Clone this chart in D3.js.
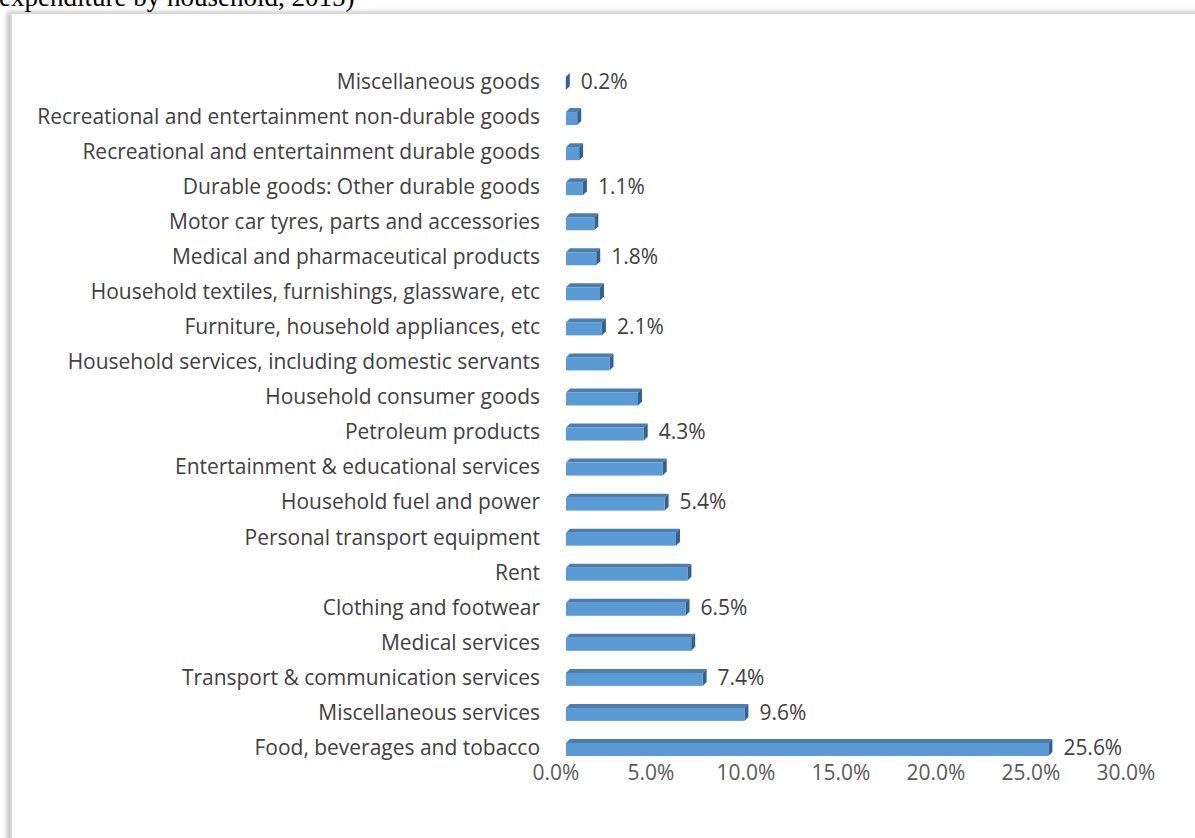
<!DOCTYPE html>
<html>
<head>
<meta charset="utf-8">
<script src="https://cdn.jsdelivr.net/npm/d3@7"></script>
<style>
  html, body { margin: 0; padding: 0; background: #ffffff; }
  svg { display: block; }
</style>
</head>
<body>
<svg id="chart" width="1195" height="838"></svg>
<script>
// Household expenditure shares, by category (percent)
const categories = [
  "Food, beverages and tobacco",
  "Miscellaneous services",
  "Transport & communication services",
  "Medical services",
  "Clothing and footwear",
  "Rent",
  "Personal transport equipment",
  "Household fuel and power",
  "Entertainment & educational services",
  "Petroleum products",
  "Household consumer goods",
  "Household services, including domestic servants",
  "Furniture, household appliances, etc",
  "Household textiles, furnishings, glassware, etc",
  "Medical and pharmaceutical products",
  "Motor car tyres, parts and accessories",
  "Durable goods: Other durable goods",
  "Recreational and entertainment durable goods",
  "Recreational and entertainment non-durable goods",
  "Miscellaneous goods"
];
const values = [25.6, 9.6, 7.4, 6.8, 6.5, 6.6, 6.0, 5.4, 5.3, 4.3, 4.0, 2.5, 2.1, 2.0, 1.8, 1.7, 1.1, 0.9, 0.8, 0.2];
// Only some bars carry a data label
const labelled = [true, true, true, false, true, false, false, true, false, true, false, false, true, false, true, false, true, false, false, true];
const ticks = [0, 5, 10, 15, 20, 25, 30];

const svg = d3.select("#chart");

// Caption line running above the chart frame
svg.append("text")
  .attr("x", -1).attr("y", 6)
  .attr("font-family", "'Liberation Serif', 'Times New Roman', serif")
  .attr("font-size", 27)
  .attr("fill", "#000")
  .text("expenditure by household, 2015)");

// Chart frame with soft shadow
const defs = svg.append("defs");
const sh = defs.append("filter").attr("id", "shadow")
  .attr("x", "-5%").attr("y", "-5%").attr("width", "110%").attr("height", "110%");
sh.append("feDropShadow").attr("dx", -3).attr("dy", 0).attr("stdDeviation", 2.5)
  .attr("flood-color", "#000").attr("flood-opacity", 0.25);

svg.append("rect")
  .attr("x", 11).attr("y", 13).attr("width", 1300).attr("height", 900)
  .attr("fill", "#fff").attr("stroke", "#d9d9d9").attr("stroke-width", 2)
  .attr("filter", "url(#shadow)");

const x0 = 566, x1 = 1136;
const x = d3.scaleLinear().domain([0, 30]).range([x0, x1]);
const y = d3.scaleBand().domain(categories).range([765, 64]).paddingInner(0.6).paddingOuter(0.3);

const depth = 4;         // 3D offset of the bar top/side faces
const faceH = 13;        // height of the front face

const fontFam = "'Open Sans', Calibri, sans-serif";

// Size the category font so the longest label spans the left margin
const longest = categories.reduce((a, b) => (b.length > a.length ? b : a));
const probe = svg.append("text").attr("font-family", fontFam).attr("font-size", 19).text(longest);
const probeW = probe.node().getComputedTextLength();
probe.remove();
const fs = 19 * 503 / probeW;

// Category axis labels
svg.append("g").selectAll("text")
  .data(categories)
  .join("text")
  .attr("x", 540)
  .attr("y", d => y(d) + y.bandwidth() / 2)
  .attr("dy", "0.35em")
  .attr("text-anchor", "end")
  .attr("font-family", fontFam)
  .attr("font-size", fs)
  .attr("fill", "#404040")
  .text(d => d);

// Value axis labels (front edge of the floor)
svg.append("g").selectAll("text")
  .data(ticks)
  .join("text")
  .attr("x", d => x(d) - depth - 6)
  .attr("y", 780)
  .attr("text-anchor", "middle")
  .attr("font-family", fontFam)
  .attr("font-size", fs)
  .attr("fill", "#595959")
  .text(d => d.toFixed(1) + "%");

const rows = categories.map((c, i) => ({ c, v: values[i], lab: labelled[i] }));
const bars = svg.append("g").selectAll("g").data(rows).join("g");

bars.each(function(d) {
  const g = d3.select(this);
  const yc = y(d.c) + y.bandwidth() / 2;
  const top = yc - faceH / 2 + depth / 2;
  const xl = x(0), xr = x(d.v) - depth;
  // top face
  g.append("path")
    .attr("d", `M${xl},${top} L${xl + depth},${top - depth} L${xr + depth},${top - depth} L${xr},${top} Z`)
    .attr("fill", "#4a7db0");
  // side face
  g.append("path")
    .attr("d", `M${xr},${top} L${xr + depth},${top - depth} L${xr + depth},${top - depth + faceH} L${xr},${top + faceH} Z`)
    .attr("fill", "#34618d");
  // front face
  g.append("rect")
    .attr("x", xl).attr("y", top)
    .attr("width", Math.max(0, xr - xl)).attr("height", faceH)
    .attr("fill", "#5b9bd5");
  if (d.lab) {
    g.append("text")
      .attr("x", x(d.v) + 11)
      .attr("y", yc)
      .attr("dy", "0.35em")
      .attr("font-family", fontFam)
      .attr("font-size", fs)
      .attr("fill", "#404040")
      .text(d.v.toFixed(1) + "%");
  }
});
</script>
</body>
</html>
